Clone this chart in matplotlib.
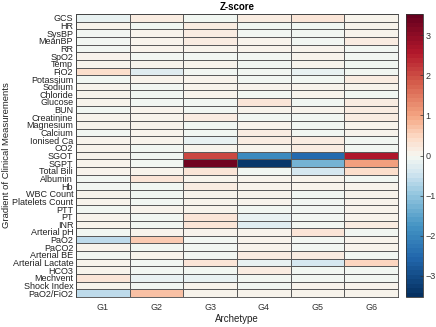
import numpy as np
import matplotlib
matplotlib.use('Agg')
from matplotlib import pyplot as plt
from matplotlib.colors import LinearSegmentedColormap

plt.rcParams['font.family'] = ['Liberation Sans', 'DejaVu Sans']

rows = ['GCS', 'HR', 'SysBP', 'MeanBP', 'RR', 'SpO2', 'Temp', 'FiO2', 'Potassium', 'Sodium',
        'Chloride', 'Glucose', 'BUN', 'Creatinine', 'Magnesium', 'Calcium', 'Ionised Ca', 'CO2',
        'SGOT', 'SGPT', 'Total Bili', 'Albumin', 'Hb', 'WBC Count', 'Platelets Count', 'PTT', 'PT',
        'INR', 'Arterial pH', 'PaO2', 'PaCO2', 'Arterial BE', 'Arterial Lactate', 'HCO3', 'Mechvent',
        'Shock Index', 'PaO2/FiO2']
groups = ['G1', 'G2', 'G3', 'G4', 'G5', 'G6']

# z-score per archetype
g1 = [-0.15, 0.1, -0.05, -0.05, -0.05, 0.05, 0.05, 0.35, -0.05, 0.1, 0.1, 0.1, -0.05, 0.1, 0.1, -0.05,
      0.1, 0.1, 0.1, 0.1, 0.1, -0.05, -0.05, 0.1, 0.1, -0.05, 0.1, 0.1, -0.05, -0.6, 0.1, -0.05, 0.1,
      0.1, 0.25, 0.1, -0.65]
g2 = [0.15, -0.05, 0.1, 0.1, 0.1, -0.05, 0.05, -0.3, 0.1, -0.05, -0.05, -0.05, 0.1, 0.1, 0.1, 0.1,
      0.1, -0.05, -0.05, -0.05, 0.1, 0.25, -0.05, -0.05, -0.05, 0.1, -0.05, -0.05, 0.1, 0.6, -0.05,
      0.1, -0.05, -0.05, -0.2, -0.05, 0.7]
g3 = [-0.05, 0.2, 0.2, 0.15, 0.1, -0.05, 0.05, -0.05, 0.1, 0.1, 0.1, -0.05, -0.05, 0.15, -0.05, -0.05,
      -0.2, 0.1, 2.0, 3.4, 0.3, 0.1, 0.15, 0.1, 0.1, 0.1, 0.3, 0.3, 0.1, -0.05, -0.1, -0.05, 0.3,
      -0.1, -0.15, 0.1, 0.1]
g4 = [0.15, -0.05, -0.05, 0.1, 0.1, -0.05, -0.05, -0.05, -0.05, 0.1, -0.1, 0.25, 0.1, -0.05, 0.1, 0.15,
      0.15, 0.1, -1.9, -3.4, -0.05, 0.1, 0.1, 0.1, 0.1, -0.05, -0.2, -0.25, 0.1, 0.1, 0.1, 0.15, -0.2,
      0.2, -0.1, -0.05, 0.1]
g5 = [0.25, -0.05, -0.05, -0.05, 0.1, 0.1, 0.1, -0.15, -0.05, 0.05, 0.05, -0.05, 0.1, -0.05, -0.05,
      -0.05, 0.15, 0.15, -2.5, -1.3, -0.35, 0.1, 0.1, -0.05, -0.05, -0.05, -0.1, -0.1, 0.25, -0.05,
      -0.05, 0.2, -0.4, -0.05, -0.1, 0.1, 0.1]
g6 = [0.1, 0.1, 0.1, 0.15, -0.05, -0.05, -0.05, -0.05, 0.2, 0.1, -0.1, 0.15, 0.2, 0.15, 0.1, 0.1,
      -0.1, -0.05, 2.6, 1.1, 0.4, -0.05, 0.1, 0.1, 0.1, 0.1, 0.1, 0.15, -0.1, 0.1, 0.1, -0.1, 0.55,
      -0.05, -0.05, 0.1, 0.1]

z = np.array([g1, g2, g3, g4, g5, g6]).T
vlim = 3.53

# RdBu-like map with a creamy / greenish centre, stepped like matlab
anchors = [(-3.53, '#053061'), (-2.6, '#2166ac'), (-1.8, '#4393c3'), (-1.0, '#92c5de'),
           (-0.45, '#d1e5f0'), (-0.04, '#f2f7f1'), (0.06, '#f7f3eb'), (0.45, '#fddbc7'),
           (1.0, '#f4a582'), (1.8, '#d6604d'), (2.6, '#b2182b'), (3.53, '#67001f')]
cm = LinearSegmentedColormap.from_list('zs', [((v + vlim) / (2 * vlim), c) for v, c in anchors], N=64)

fig = plt.figure(figsize=(4.36, 3.27), dpi=100)
ax = fig.add_axes([0.1743, 0.0917, 0.7385, 0.8655])
mesh = ax.pcolormesh(z, cmap=cm, vmin=-vlim, vmax=vlim, edgecolors='#5a5a5a', linewidth=0.5)
ax.set_xlim(0, len(groups))
ax.set_ylim(len(rows), 0)
ax.set_xticks(np.arange(len(groups)) + 0.5)
ax.set_xticklabels(groups, fontsize=6.5, color='#333333')
ax.set_yticks(np.arange(len(rows)) + 0.5)
ax.set_yticklabels(rows, fontsize=6.5, color='#222222')
ax.tick_params(length=0, pad=2)
ax.tick_params(axis='x', pad=4)
for s in ax.spines.values():
    s.set_color('#444444')
    s.set_linewidth(0.6)
ax.set_title('Z-score', fontsize=7, fontweight='bold', pad=3)
ax.set_xlabel('Archetype', fontsize=7, labelpad=2, color='#222222')
ax.set_ylabel('Gradient of Clinical Measurements', fontsize=6.8, color='#222222')
ax.yaxis.set_label_coords(-0.203, 0.5)

cax = fig.add_axes([0.9312, 0.0917, 0.039, 0.8655])
cb = fig.colorbar(mesh, cax=cax, ticks=[-3, -2, -1, 0, 1, 2, 3])
cb.ax.tick_params(labelsize=6.5, direction='in', length=2.5, width=0.5, pad=2, colors='#333333')
cb.outline.set_edgecolor('#333333')
cb.outline.set_linewidth(0.6)

fig.savefig('out.png', dpi=100)
